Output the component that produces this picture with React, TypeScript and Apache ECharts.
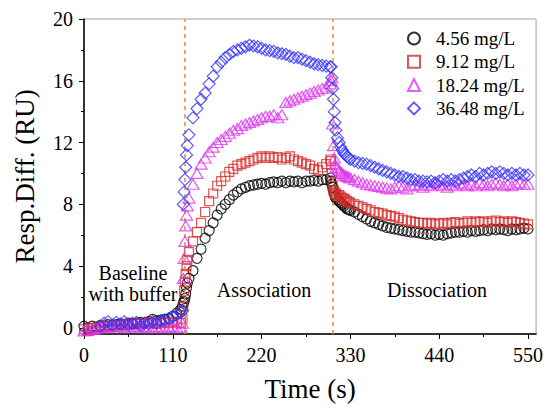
import React, { useEffect, useRef } from "react";
import * as echarts from "echarts";

const FONT = "'Liberation Serif', 'Times New Roman', serif";

// Time (s)
const times = [
  0, 5, 10, 15, 20, 25, 30, 35, 40, 45, 50, 55, 60, 65, 70, 75, 80, 85, 90, 95, 100, 105, 110, 115, 120,
  122, 123, 124, 125, 126, 127, 128,
  130, 135, 140, 145, 150, 155, 160, 165, 170, 175, 180, 185, 190, 195, 200, 205, 210, 215, 220, 225,
  230, 235, 240, 245, 250, 255, 260, 265, 270, 275, 280, 285, 290, 295, 300, 305,
  306, 307, 308, 309, 310, 311, 312, 314, 316, 318, 320, 322, 324, 326, 328,
  330, 335, 340, 345, 350, 355, 360, 365, 370, 375, 380, 385, 390, 395, 400, 405, 410, 415, 420, 425,
  430, 435, 440, 445, 450, 455, 460, 465, 470, 475, 480, 485, 490, 495, 500, 505, 510, 515, 520, 525,
  530, 535, 540, 545, 550,
];

// 4.56 mg/L
const resp456 = [
  0.1, 0.0, 0.1, 0.05, 0.15, 0.1, 0.2, 0.15, 0.2, 0.25, 0.2, 0.3, 0.25, 0.3, 0.35, 0.3, 0.4, 0.55, 0.45, 0.5, 0.55, 0.6, 0.75, 0.95, 1.2,
  1.4, 1.6, 1.7, 1.9, 2.2, 2.6, 2.9,
  3.2, 3.7, 4.5, 5.1, 5.8, 6.3, 6.8, 7.3, 7.7, 8.0, 8.3, 8.6, 8.8, 9.0, 9.1, 9.2, 9.25, 9.3, 9.35, 9.3,
  9.4, 9.45, 9.4, 9.5, 9.4, 9.5, 9.45, 9.5, 9.4, 9.5, 9.5, 9.55, 9.5, 9.6, 9.6, 9.7,
  9.5, 9.3, 9.1, 8.9, 8.7, 8.5, 8.4, 8.3, 8.2, 8.1, 8.0, 7.9, 7.8, 7.7, 7.65,
  7.6, 7.5, 7.35, 7.2, 7.05, 6.9, 6.8, 6.7, 6.6, 6.5, 6.45, 6.4, 6.35, 6.3, 6.25, 6.2, 6.2, 6.15, 6.1, 6.05,
  6.1, 6.0, 6.05, 6.0, 6.1, 6.15, 6.2, 6.2, 6.25, 6.2, 6.3, 6.25, 6.3, 6.35, 6.3, 6.4, 6.35, 6.4, 6.35, 6.3,
  6.4, 6.35, 6.4, 6.45, 6.4,
];

// 9.12 mg/L
const resp912 = [
  -0.1, -0.2, 0.0, -0.1, 0.1, 0.05, 0.15, 0.1, 0.2, 0.15, 0.2, 0.25, 0.2, 0.3, 0.25, 0.3, 0.35, 0.3, 0.25, 0.3, 0.35, 0.3, 0.4, 0.35, 0.3,
  0.6, 1.4, 2.4, 3.0, 3.5, 4.0, 4.4,
  4.9, 5.6, 6.2, 6.8, 7.5, 8.2, 8.7, 9.2, 9.5, 9.8, 10.1, 10.3, 10.5, 10.6, 10.7, 10.8, 10.9, 11.0, 11.1, 11.0,
  11.1, 11.0, 11.05, 10.9, 11.0, 11.1, 10.9, 10.8, 10.7, 10.6, 10.5, 10.3, 10.2, 10.4, 10.6, 10.9,
  10.8, 10.0, 9.2, 8.9, 8.8, 8.7, 8.7, 8.6, 8.6, 8.5, 8.4, 8.35, 8.3, 8.2, 8.15,
  8.1, 8.0, 7.9, 7.8, 7.7, 7.6, 7.5, 7.45, 7.4, 7.3, 7.25, 7.2, 7.1, 7.0, 6.95, 6.9, 6.85, 6.8, 6.8, 6.75,
  6.8, 6.7, 6.75, 6.8, 6.7, 6.8, 6.85, 6.75, 6.8, 6.9, 6.8, 6.9, 6.85, 6.9, 6.8, 6.9, 6.95, 6.85, 6.9, 6.8,
  6.9, 6.85, 6.8, 6.75, 6.7,
];

// 18.24 mg/L
const resp1824 = [
  -0.2, -0.15, -0.1, -0.05, 0.0, 0.05, 0.0, 0.1, 0.05, 0.1, 0.0, 0.05, 0.1, 0.05, 0.0, 0.1, 0.05, 0.0, 0.1, 0.05, 0.0, 0.05, 0.1, 0.0, 0.05,
  0.3, 3.2, 4.5, 5.6, 6.6, 7.3, 7.9,
  8.4, 9.3, 10.0, 10.6, 11.0, 11.4, 11.7, 12.0, 12.2, 12.4, 12.6, 12.8, 12.9, 13.1, 13.2, 13.3, 13.4, 13.5, 13.6, 13.7,
  13.7, 13.8, 13.6, 13.8, 14.6, 14.7, 14.8, 14.9, 15.0, 15.1, 15.2, 15.3, 15.4, 15.5, 15.6, 15.8,
  16.0, 16.2, 13.2, 11.8, 11.0, 10.6, 10.4, 10.3, 10.2, 10.1, 10.0, 9.9, 9.85, 9.8, 9.75,
  9.7, 9.6, 9.5, 9.4, 9.3, 9.25, 9.2, 9.15, 9.1, 9.05, 9.0, 9.1, 9.2, 9.1, 9.0, 9.2, 9.3, 9.2, 9.1, 9.3,
  9.2, 9.4, 9.3, 9.2, 9.1, 9.3, 9.2, 9.4, 9.3, 9.2, 9.3, 9.2, 9.4, 9.3, 9.2, 9.3, 9.4, 9.3, 9.2, 9.3,
  9.2, 9.3, 9.4, 9.3, 9.3,
];

// 36.48 mg/L
const resp3648 = [
  null, null, null, null, 0.1, 0.3, 0.4, 0.2, 0.35, 0.25, 0.4, 0.2, 0.3, 0.35, 0.15, 0.3, 0.25, 0.4, 0.3, 0.45, 0.5, 0.6, 0.7, 0.85, 1.0,
  1.1, 8.0, 8.8, 9.6, 10.4, 11.2, 11.8,
  12.5, 13.6, 14.2, 14.8, 15.2, 15.8, 16.3, 16.9, 17.2, 17.5, 17.7, 17.9, 18.0, 18.1, 18.2, 18.3, 18.25, 18.2, 18.1, 18.0,
  17.95, 17.9, 17.8, 17.75, 17.7, 17.6, 17.5, 17.5, 17.4, 17.3, 17.2, 17.1, 17.05, 17.0, 16.95, 16.9,
  16.9, 16.2, 15.5, 14.8, 14.0, 13.3, 12.8, 12.3, 12.0, 11.7, 11.5, 11.3, 11.2, 11.1, 11.0,
  10.9, 10.8, 10.7, 10.65, 10.6, 10.5, 10.4, 10.3, 10.2, 10.1, 10.0, 9.9, 9.8, 9.8, 9.7, 9.6, 9.6, 9.5, 9.5, 9.45,
  9.5, 9.4, 9.5, 9.6, 9.5, 9.6, 9.5, 9.6, 9.7, 9.8, 9.9, 9.8, 10.0, 9.9, 10.0, 10.1, 10.0, 10.1, 10.0, 9.9,
  10.0, 9.9, 10.0, 9.9, 9.9,
];

const seriesNames = ["4.56 mg/L", "9.12 mg/L", "18.24 mg/L", "36.48 mg/L"];
const seriesValues = [resp456, resp912, resp1824, resp3648];
const seriesColors = ["#000000", "#d42a2a", "#dd33ee", "#3333ff"];
const seriesSymbols = ["circle", "rect", "triangle", "diamond"];
const seriesSymbolSizes: any[] = [10, 9, [12, 10], 12];

const xTicks = [0, 110, 220, 330, 440, 550];
const xMinorTicks = [55, 165, 275, 385, 495];
const yTicks = [0, 4, 8, 12, 16, 20];
const yMinorTicks = [2, 6, 10, 14, 18];
const phaseBoundaries = [125, 308];
const phaseLabels = ["Baseline\nwith buffer", "Association", "Dissociation"];

export default function App() {
  const ref = useRef<HTMLDivElement>(null);

  useEffect(() => {
    if (!ref.current) return;
    const chart = echarts.init(ref.current, undefined, { renderer: "svg" });

    const series: any[] = seriesNames.map((name, i) => ({
      name,
      type: "scatter",
      symbol: seriesSymbols[i],
      symbolSize: seriesSymbolSizes[i],
      itemStyle: {
        color: "rgba(255,255,255,0)",
        borderColor: seriesColors[i],
        borderWidth: 1.2,
      },
      emphasis: { disabled: true },
      data: times
        .map((t, k) => [t, seriesValues[i][k]])
        .filter((p) => p[1] !== null && p[1] !== undefined),
      z: 3 + i,
    }));

    series[0].markLine = {
      silent: true,
      symbol: ["none", "none"],
      label: { show: false },
      lineStyle: { color: "#dc8a3c", type: [4, 4], width: 1.5 },
      data: phaseBoundaries.map((x) => ({ xAxis: x })),
    };

    const axisText = { color: "#000", fontFamily: FONT, fontSize: 20 };

    chart.setOption({
      animation: false,
      backgroundColor: "#fff",
      grid: {
        left: 84,
        right: 9,
        top: 19,
        bottom: 70,
        show: true,
        borderColor: "#a0a0a0",
        borderWidth: 1,
      },
      legend: {
        orient: "vertical",
        left: 402,
        top: 24,
        itemWidth: 12,
        itemHeight: 12,
        itemGap: 4.3,
        textStyle: {
          fontFamily: FONT,
          fontSize: 19,
          lineHeight: 19,
          color: "#000",
          padding: [0, 0, 0, 11],
        },
        data: seriesNames,
      },
      xAxis: [
        {
          type: "value",
          min: 0,
          max: 560,
          position: "bottom",
          axisLine: { show: true, onZero: false, lineStyle: { color: "#000", width: 1.5 } },
          axisTick: { show: true, length: 5, customValues: xTicks, lineStyle: { color: "#000" } },
          axisLabel: { ...axisText, customValues: xTicks, margin: 11 },
          splitLine: { show: false },
          name: "Time (s)",
          nameLocation: "middle",
          nameGap: 41,
          nameTextStyle: { color: "#000", fontFamily: FONT, fontSize: 27 },
        },
        {
          type: "value",
          min: 0,
          max: 560,
          position: "bottom",
          axisLine: { show: false, onZero: false },
          axisTick: { show: true, length: 3, customValues: xMinorTicks, lineStyle: { color: "#000" } },
          axisLabel: { show: false },
          splitLine: { show: false },
        },
      ],
      yAxis: [
        {
          type: "value",
          min: -0.4,
          max: 20,
          position: "left",
          axisLine: { show: true, onZero: false, lineStyle: { color: "#000", width: 1.5 } },
          axisTick: { show: true, length: 5, customValues: yTicks, lineStyle: { color: "#000" } },
          axisLabel: { ...axisText, customValues: yTicks, margin: 11 },
          splitLine: { show: false },
          name: "Resp.Diff. (RU)",
          nameLocation: "middle",
          nameGap: 46,
          nameTextStyle: { color: "#000", fontFamily: FONT, fontSize: 27 },
        },
        {
          type: "value",
          min: -0.4,
          max: 20,
          position: "left",
          axisLine: { show: false, onZero: false },
          axisTick: { show: true, length: 3, customValues: yMinorTicks, lineStyle: { color: "#000" } },
          axisLabel: { show: false },
          splitLine: { show: false },
        },
      ],
      graphic: [
        {
          type: "text",
          x: 133,
          y: 283,
          style: {
            text: phaseLabels[0],
            align: "center",
            verticalAlign: "middle",
            fontFamily: FONT,
            fontSize: 20,
            lineHeight: 21,
            fill: "#000",
          },
        },
        {
          type: "text",
          x: 264,
          y: 290,
          style: {
            text: phaseLabels[1],
            align: "center",
            verticalAlign: "middle",
            fontFamily: FONT,
            fontSize: 20,
            fill: "#000",
          },
        },
        {
          type: "text",
          x: 437,
          y: 290,
          style: {
            text: phaseLabels[2],
            align: "center",
            verticalAlign: "middle",
            fontFamily: FONT,
            fontSize: 20,
            fill: "#000",
          },
        },
      ],
      series,
    });

    return () => chart.dispose();
  }, []);

  return (
    <div
      ref={ref}
      style={{ position: "fixed", left: 0, top: 0, width: 546, height: 407, background: "#fff" }}
    />
  );
}
